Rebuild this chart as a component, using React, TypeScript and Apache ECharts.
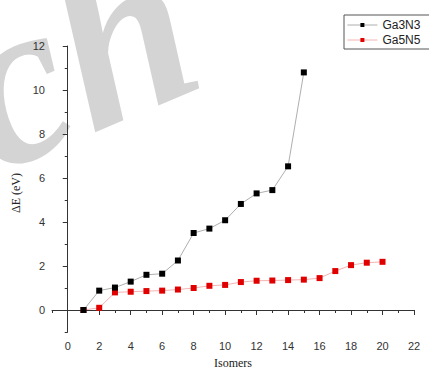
import React, { useEffect, useRef } from "react";
import * as echarts from "echarts";

const isomersA = [1, 2, 3, 4, 5, 6, 7, 8, 9, 10, 11, 12, 13, 14, 15];
const ga3n3 = [0, 0.88, 1.02, 1.29, 1.6, 1.65, 2.25, 3.5, 3.7, 4.08, 4.82, 5.3, 5.45, 6.53, 10.8];
const isomersB = [1, 2, 3, 4, 5, 6, 7, 8, 9, 10, 11, 12, 13, 14, 15, 16, 17, 18, 19, 20];
const ga5n5 = [0, 0.1, 0.8, 0.83, 0.86, 0.88, 0.93, 1.0, 1.1, 1.14, 1.27, 1.33, 1.34, 1.36, 1.38, 1.45, 1.77, 2.04, 2.15, 2.19];
const xMajor = [0, 2, 4, 6, 8, 10, 12, 14, 16, 18, 20, 22];
const yMajor = [0, 2, 4, 6, 8, 10, 12];

export default function App() {
  const ref = useRef<HTMLDivElement>(null);
  useEffect(() => {
    if (!ref.current) return;
    const chart = echarts.init(ref.current, null, { renderer: "svg" });
    const axisColor = "#333";
    const labelFont = { fontFamily: "Liberation Sans", fontSize: 11, color: "#333" };
    chart.setOption({
      animation: false,
      backgroundColor: "#fff",
      graphic: [
        {
          type: "text",
          z: -10,
          x: 10,
          y: 210,
          rotation: 0.4,
          silent: true,
          style: {
            text: "ch",
            font: "italic bold 235px 'Liberation Serif'",
            fill: "#d4d4d4",
            textAlign: "left",
            textVerticalAlign: "bottom",
          },
        },
      ],
      grid: { left: 52, top: 46, width: 362, height: 286, containLabel: false, outerBoundsMode: "none" },
      legend: {
        left: 344,
        top: 15,
        orient: "vertical",
        borderColor: "#555",
        borderWidth: 1,
        borderRadius: 0,
        padding: [4, 50, 3, 3],
        itemGap: 3,
        itemWidth: 30,
        itemHeight: 5,
        textStyle: { fontFamily: "Liberation Sans", fontSize: 12, color: "#222" },
        data: [
          { name: "Ga3N3", lineStyle: { color: "#999", width: 0.8 }, itemStyle: { color: "#000" } },
          { name: "Ga5N5", lineStyle: { color: "#f0a0a0", width: 0.8 }, itemStyle: { color: "#e00000" } },
        ],
      },
      xAxis: [
        {
          type: "value",
          min: -1,
          max: 22,
          interval: 1,
          name: "Isomers",
          nameLocation: "middle",
          nameGap: 25,
          nameTextStyle: { fontFamily: "Liberation Serif", fontSize: 12, color: "#222" },
          axisLine: { lineStyle: { color: axisColor, width: 1 } },
          axisTick: { length: 3, lineStyle: { color: axisColor } },
          axisLabel: {
            margin: 8,
            ...labelFont,
            formatter: (v: number) => (xMajor.indexOf(v) >= 0 ? String(v) : ""),
          },
          splitLine: { show: false },
        },
        {
          type: "value",
          min: -1,
          max: 22,
          position: "bottom",
          axisLine: { show: false },
          axisTick: { show: true, customValues: xMajor, length: 5, lineStyle: { color: axisColor } },
          axisLabel: { show: false },
          splitLine: { show: false },
        },
      ],
      yAxis: [
        {
          type: "value",
          min: -1,
          max: 12,
          interval: 1,
          name: "ΔE (eV)",
          nameLocation: "middle",
          nameGap: 28,
          nameTextStyle: { fontFamily: "Liberation Serif", fontSize: 12, color: "#222", padding: [0, 8, 0, 0] },
          axisLine: { show: true, lineStyle: { color: axisColor, width: 1 } },
          axisTick: { show: true, length: 3, lineStyle: { color: axisColor } },
          axisLabel: {
            margin: 7,
            ...labelFont,
            formatter: (v: number) => (yMajor.indexOf(v) >= 0 ? String(v) : ""),
          },
          splitLine: { show: false },
        },
        {
          type: "value",
          min: -1,
          max: 12,
          position: "left",
          axisLine: { show: false },
          axisTick: { show: true, customValues: yMajor, length: 5, lineStyle: { color: axisColor } },
          axisLabel: { show: false },
          splitLine: { show: false },
        },
      ],
      series: [
        {
          name: "Ga3N3",
          type: "line",
          data: isomersA.map((x, i) => [x, ga3n3[i]]),
          symbol: "rect",
          symbolSize: 6,
          itemStyle: { color: "#000" },
          lineStyle: { color: "#999", width: 0.8 },
          z: 3,
        },
        {
          name: "Ga5N5",
          type: "line",
          data: isomersB.map((x, i) => [x, ga5n5[i]]),
          symbol: "rect",
          symbolSize: 6,
          itemStyle: { color: "#e00000" },
          lineStyle: { color: "#f0a0a0", width: 0.8 },
          z: 2,
        },
      ],
    });
    return () => chart.dispose();
  }, []);
  return <div ref={ref} style={{ width: 429, height: 371, position: "absolute", left: 0, top: 0 }} />;
}
